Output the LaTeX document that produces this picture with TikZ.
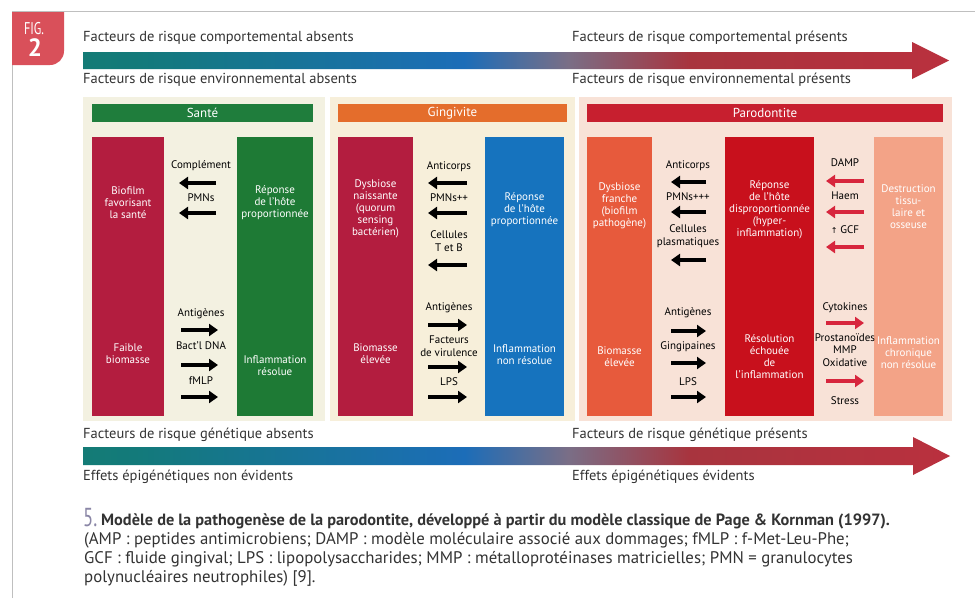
\documentclass[tikz,border=0pt]{standalone}
\usepackage{fontspec}
\setmainfont{PT Sans}
\newfontfamily\condfont{PT Sans}[FakeStretch=0.72]
\newfontfamily\symfont{DejaVu Sans}
\usetikzlibrary{arrows.meta}
\definecolor{figred}{HTML}{D9505A}
\definecolor{sgreen}{HTML}{1F7D3C}
\definecolor{gboxgreen}{HTML}{1E7A35}
\definecolor{crimson}{HTML}{B31D3F}
\definecolor{gorange}{HTML}{E46D2C}
\definecolor{gblue}{HTML}{1673BE}
\definecolor{phead}{HTML}{C71F2F}
\definecolor{pleft}{HTML}{E75A3C}
\definecolor{pmid}{HTML}{C8101C}
\definecolor{pright}{HTML}{F3A387}
\definecolor{rarrow}{HTML}{D7263D}
\definecolor{bgS}{HTML}{F3F1E1}
\definecolor{bgG}{HTML}{F7EFDA}
\definecolor{bgP}{HTML}{F8E2D7}
\definecolor{capgray}{HTML}{333333}
\definecolor{fivecol}{HTML}{8A86A6}
\definecolor{c1}{HTML}{1D8752}
\definecolor{c2}{HTML}{137A7A}
\definecolor{c3}{HTML}{1C6DB8}
\definecolor{c4}{HTML}{7A6E86}
\definecolor{c5}{HTML}{A8343E}
\definecolor{c6}{HTML}{D72A3E}
\pgfdeclarehorizontalshading{riskbar}{100bp}{color(0bp)=(c1); color(28bp)=(c2); color(47bp)=(c3); color(53bp)=(c4); color(60bp)=(c5); color(100bp)=(c6)}
\tikzset{
  boxtxt/.style={text=white,align=center,inner sep=0pt,font=\fontsize{11}{12}\selectfont},
  lbl/.style={text=black,align=center,inner sep=0pt,font=\fontsize{11}{12.5}\selectfont},
  hdr/.style={text=white,inner sep=0pt,font=\fontsize{13}{14}\selectfont},
  risk/.style={anchor=west,inner sep=0pt,text=capgray,font=\fontsize{14.5}{16}\selectfont},
  blkarrow/.style={line width=3.5pt,-{Triangle[length=9pt,width=12pt]}},
  redarrow/.style={line width=3.5pt,rarrow,-{Triangle[length=9pt,width=12pt]}},
  captxt/.style={anchor=west,inner sep=0pt,text=capgray,font=\fontsize{16.8}{18}\selectfont}
}
\newcommand\harrow[5]{\coordinate (#1s) at (#3,#5); \coordinate (#1e) at (#4,#5); \draw[#2] (#1s) -- (#1e);}
\begin{document}
\begin{tikzpicture}[x=1pt,y=-1pt]
\useasboundingbox (0,0) rectangle (975,598);
\fill[white] (0,0) rectangle (975,598);
% frame
\draw[black!25,line width=1pt] (12,598) -- (12,11) -- (975,11);
% fig tag
\fill[figred] (12,12) -- (64,12) {[rounded corners=14pt] -- (64,65)} -- (12,65) -- cycle;
\node[text=white,inner sep=0pt,font=\condfont\fontsize{17}{17}\selectfont] (figt) at (34,29) {FIG.};
\node[text=white,inner sep=0pt,font=\bfseries\fontsize{25}{25}\selectfont] (fign) at (35,48) {2};
% top risk arrow
\shade[shading=riskbar] (83,52) -- (912,52) -- (912,42) -- (949,60.5) -- (912,79) -- (912,69) -- (83,69) -- cycle;
\node[risk] (t1) at (83,38) {Facteurs de risque comportemental absents};
\node[risk] (t2) at (572,38) {Facteurs de risque comportemental présents};
\node[risk] (t3) at (83,80) {Facteurs de risque environnemental absents};
\node[risk] (t4) at (572,80) {Facteurs de risque environnemental présents};
% bottom risk arrow
\shade[shading=riskbar] (83,447) -- (913,447) -- (913,437) -- (950,456) -- (913,475) -- (913,465) -- (83,465) -- cycle;
\node[risk] (b1) at (83,435) {Facteurs de risque génétique absents};
\node[risk] (b2) at (572,435) {Facteurs de risque génétique présents};
\node[risk] (b3) at (83,477) {Effets épigénétiques non évidents};
\node[risk] (b4) at (572,477) {Effets épigénétiques évidents};
% panels
\fill[bgS] (83,97) rectangle (325,421);
\fill[bgG] (330,97) rectangle (575,421);
\fill[bgP] (579,97) rectangle (952,421);
% ---------- Santé
\fill[sgreen] (92,104) rectangle (313,122);
\node[hdr] (hS) at (202.5,113) {Santé};
\fill[crimson] (92,137) rectangle (164,416);
\fill[gboxgreen] (237,137) rectangle (313,416);
\node[boxtxt] (sL1) at (128,203) {Biofilm\\favorisant\\la santé};
\node[boxtxt] (sL2) at (128,354) {Faible\\biomasse};
\node[boxtxt] (sR1) at (275,203) {Réponse\\de l'hôte\\proportionnée};
\node[boxtxt] (sR2) at (275,366) {Inflammation\\résolue};
\node[lbl] (sa1) at (201,166) {Complément};
\harrow{sA}{blkarrow}{216}{179}{183}
\node[lbl] (sa2) at (201,198) {PMNs};
\harrow{sB}{blkarrow}{216}{179}{213}
\node[lbl] (sa3) at (201,314) {Antigènes};
\harrow{sC}{blkarrow}{181}{218}{330}
\node[lbl] (sa4) at (201,346) {Bact'l DNA};
\harrow{sD}{blkarrow}{181}{218}{365}
\node[lbl] (sa5) at (201,381) {fMLP};
\harrow{sE}{blkarrow}{181}{218}{397}
% ---------- Gingivite
\fill[gorange] (338,104) rectangle (567,122);
\node[hdr] (hG) at (452.5,113) {Gingivite};
\fill[crimson] (338,137) rectangle (413,416);
\fill[gblue] (485,137) rectangle (564,416);
\node[boxtxt] (gL1) at (375.5,209) {Dysbiose\\naissante\\(quorum\\sensing\\bactérien)};
\node[boxtxt] (gL2) at (375.5,354) {Biomasse\\élevée};
\node[boxtxt] (gR1) at (524.5,210) {Réponse\\de l'hôte\\proportionnée};
\node[boxtxt] (gR2) at (524.5,355) {Inflammation\\non résolue};
\node[lbl] (ga1) at (449,167) {Anticorps};
\harrow{gA}{blkarrow}{467}{428}{183}
\node[lbl] (ga2) at (449,198) {PMNs++};
\harrow{gB}{blkarrow}{467}{428}{213}
\node[lbl] (ga3) at (449,241) {Cellules\\T et B};
\harrow{gC}{blkarrow}{467}{428}{265}
\node[lbl] (ga4) at (449,308) {Antigènes};
\harrow{gD}{blkarrow}{428}{467}{325}
\node[lbl] (ga5) at (449,346) {Facteurs\\de virulence};
\harrow{gE}{blkarrow}{428}{467}{367}
\node[lbl] (ga6) at (449,382) {LPS};
\harrow{gF}{blkarrow}{428}{467}{397}
% ---------- Parodontite
\fill[phead] (587,104) rectangle (943,122);
\node[hdr] (hP) at (765,113) {Parodontite};
\fill[pleft] (587,137) rectangle (652,416);
\fill[pmid] (725,137) rectangle (814,416);
\fill[pright] (874,137) rectangle (943,416);
\node[boxtxt] (pL1) at (619.5,206) {Dysbiose\\franche\\(biofilm\\pathogène)};
\node[boxtxt] (pL2) at (619.5,357) {Biomasse\\élevée};
\node[boxtxt] (pM1) at (769.5,210) {Réponse\\de l'hôte\\disproportionnée\\(hyper-\\inflammation)};
\node[boxtxt] (pM2) at (769.5,357) {Résolution\\échouée\\de\\l'inflammation};
\node[boxtxt] (pR1) at (908.5,207) {Destruction\\tissu-\\laire et\\osseuse};
\node[boxtxt] (pR2) at (908.5,353) {Inflammation\\chronique\\non résolue};
\node[lbl] (pa1) at (688,166) {Anticorps};
\harrow{pA}{blkarrow}{706}{671}{182}
\node[lbl] (pa2) at (688,197) {PMNs+++};
\harrow{pB}{blkarrow}{706}{671}{212}
\node[lbl] (pa3) at (688,236) {Cellules\\plasmatiques};
\harrow{pC}{blkarrow}{706}{671}{260}
\node[lbl] (pa4) at (688,313) {Antigènes};
\harrow{pD}{blkarrow}{671}{706}{331}
\node[lbl] (pa5) at (688,347) {Gingipaines};
\harrow{pE}{blkarrow}{671}{706}{363}
\node[lbl] (pa6) at (688,382) {LPS};
\harrow{pF}{blkarrow}{671}{706}{397}
\node[lbl] (qa1) at (845,163) {DAMP};
\harrow{qA}{redarrow}{864}{826}{181}
\node[lbl] (qa2) at (845,196) {Haem};
\harrow{qB}{redarrow}{864}{826}{212}
\node[lbl] (qa3) at (845,230) {{\symfont\fontsize{8}{9}\selectfont ↑} GCF};
\harrow{qC}{redarrow}{864}{826}{247}
\node[lbl] (qa4) at (845,308) {Cytokines};
\harrow{qD}{redarrow}{826}{864}{323}
\node[lbl] (qa5) at (845,350) {Prostanoïdes\\MMP\\Oxidative};
\harrow{qE}{redarrow}{826}{864}{381}
\node[lbl] (qa6) at (845,401) {Stress};
% ---------- caption
\node[anchor=west,inner sep=0pt,text=fivecol,font=\condfont\fontsize{26}{26}\selectfont] (five) at (83,518) {5.};
\node[captxt,font=\bfseries\fontsize{16.3}{18}\selectfont] (cl1) at (101,521) {Modèle de la pathogenèse de la parodontite, développé à partir du modèle classique de Page \& Kornman (1997).};
\node[captxt] (cl2) at (84,540) {(AMP : peptides antimicrobiens; DAMP : modèle moléculaire associé aux dommages; fMLP : f-Met-Leu-Phe;};
\node[captxt] (cl3) at (84,559) {GCF : fluide gingival; LPS : lipopolysaccharides; MMP : métalloprotéinases matricielles; PMN = granulocytes};
\node[captxt] (cl4) at (84,578) {polynucléaires neutrophiles) [9].};
\end{tikzpicture}
\end{document}
